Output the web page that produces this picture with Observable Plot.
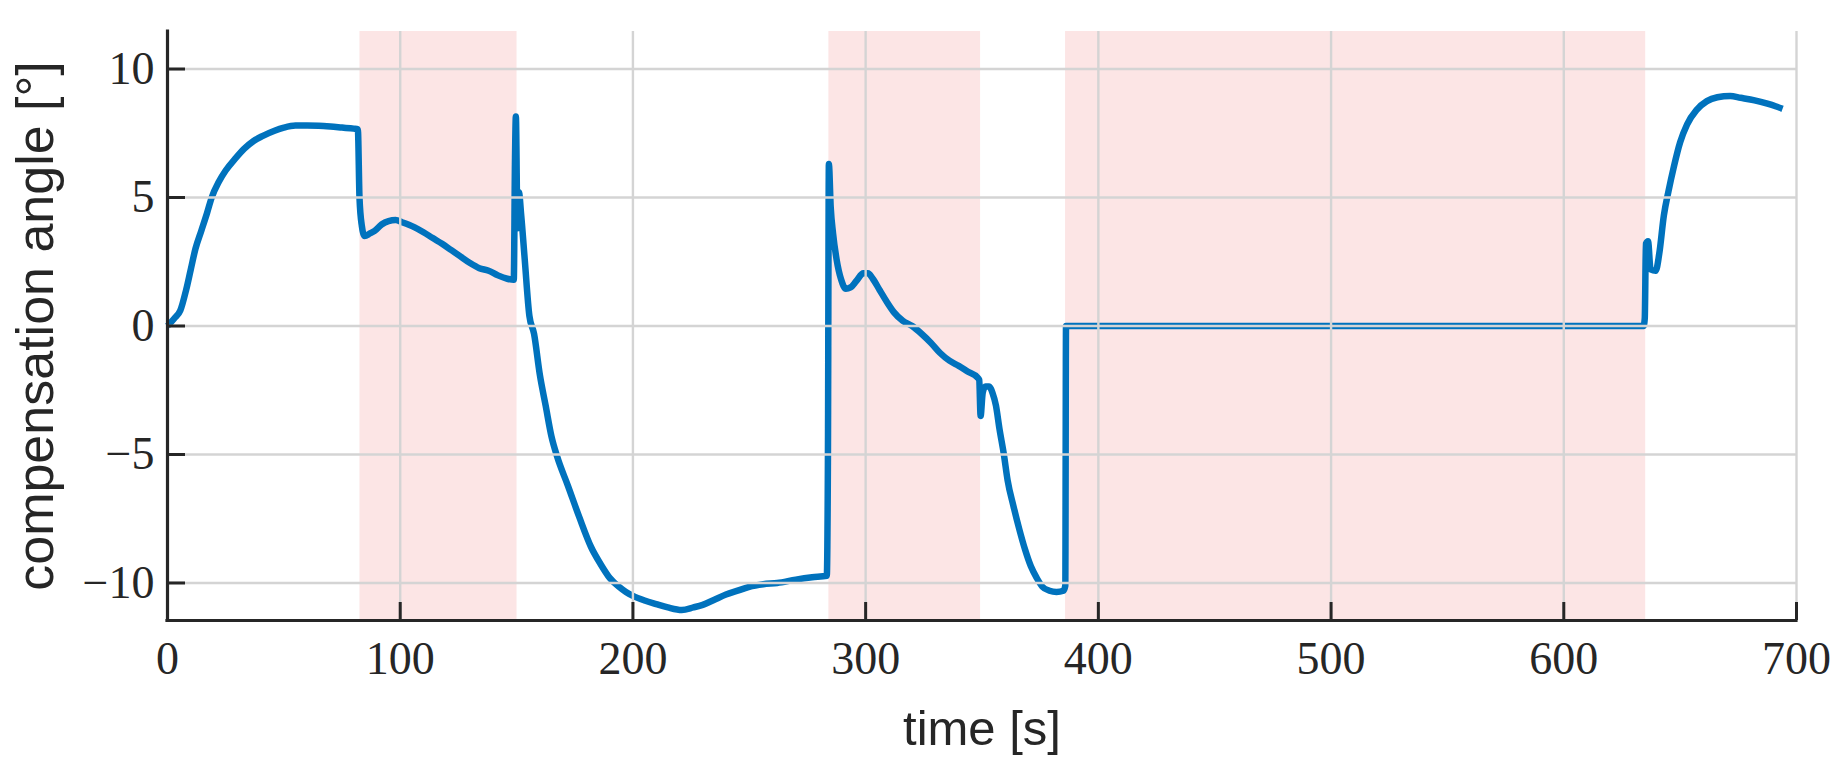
<!DOCTYPE html>
<html>
<head>
<meta charset="utf-8">
<script src="https://cdn.jsdelivr.net/npm/d3@7"></script>
<script src="https://cdn.jsdelivr.net/npm/@observablehq/plot@0.6"></script>
<style>
  html, body { margin: 0; padding: 0; background: #ffffff; }
  #chart { width: 1839px; height: 772px; }
</style>
</head>
<body>
<div id="chart"></div>
<script>
// ---- data ----
const time = [
  0, 3, 5.5, 8, 10, 12, 14.5, 17, 19, 22,
  25, 29, 33, 37, 41, 46, 50, 55, 60, 65,
  70, 75, 80, 81.8, 82.5, 83.5, 84.7, 87, 89, 92,
  95, 98, 101, 106, 110, 114, 118, 122, 126, 130,
  134, 138, 142, 146, 148.8, 149.3, 149.7, 150.4, 151.0, 152.0,
  153.5, 155.5, 157.5, 160, 162.5, 165, 167.5, 172, 177, 182,
  186, 190, 194, 197, 200, 205, 210, 215, 221, 226,
  230, 235, 240, 245, 250, 256, 262, 270, 277, 283.3,
  283.8, 284.2, 285, 286, 287.5, 289.5, 291.5, 293.5, 296, 299,
  301, 303, 306, 309, 312, 316, 320, 324, 328, 332,
  336, 340, 344, 348, 348.8, 349.4, 350.3, 351.5, 353, 354.5,
  356, 357.5, 359.4, 361, 363.5, 366, 368.5, 371, 373.5, 376,
  379, 382, 385, 385.8, 386.1, 634.3, 634.8, 635.3, 636.2, 637.3,
  639.5, 641, 643, 645, 647.3, 650, 653, 657, 661.5, 666,
  671.5, 676, 682, 687.5, 691, 694
];
const angle = [
  0, 0.3, 0.6, 1.4, 2.2, 3.0, 3.7, 4.4, 5.0, 5.6,
  6.05, 6.5, 6.9, 7.2, 7.4, 7.6, 7.72, 7.8, 7.8, 7.79,
  7.76, 7.72, 7.68, 7.65, 5.0, 3.9, 3.5, 3.6, 3.7, 3.95,
  4.08, 4.12, 4.03, 3.85, 3.65, 3.42, 3.2, 2.95, 2.7, 2.45,
  2.25, 2.15, 1.97, 1.84, 1.8, 6.3, 8.15, 3.8, 5.2, 4.3,
  2.6, 0.4, -0.3, -1.9, -3.1, -4.3, -5.1, -6.2, -7.45, -8.6,
  -9.25, -9.8, -10.15, -10.35, -10.5, -10.68, -10.82, -10.95, -11.05, -10.95,
  -10.85, -10.65, -10.45, -10.3, -10.15, -10.05, -10.0, -9.87, -9.78, -9.72,
  -5.0, 6.3, 4.6, 3.6, 2.6, 1.8, 1.45, 1.5, 1.75, 2.05,
  2.05, 1.85, 1.4, 0.95, 0.55, 0.2, 0.0, -0.3, -0.65, -1.05,
  -1.35, -1.55, -1.78, -2.0, -2.1, -3.5, -2.6, -2.35, -2.35, -2.6,
  -3.1, -4.0, -5.0, -6.0, -7.0, -7.9, -8.7, -9.35, -9.8, -10.15,
  -10.3, -10.35, -10.3, -10.1, 0, 0, 0.3, 3.2, 3.3, 2.2,
  2.15, 2.8, 4.3, 5.25, 6.2, 7.15, 7.85, 8.4, 8.75, 8.9,
  8.95, 8.88, 8.78, 8.65, 8.55, 8.45
];
const shadeStart = [82.7, 284.2, 385.9];
const shadeEnd   = [150.2, 349.4, 635.2];
const xTicks = [0, 100, 200, 300, 400, 500, 600, 700];
const yTicks = [-10, -5, 0, 5, 10];
const xDomain = [0, 700];
const yDomain = [-11.46, 11.46];
const xLabel = "time [s]";
const yLabel = "compensation angle [°]";

// ---- layout / style ----
const W = 1839, H = 772;
const mL = 167, mR = 43, mT = 31, mB = 152;
const frameW = W - mL - mR, frameH = H - mT - mB;
const tickLen = 18;
const axisColor = "#262626";
const gridColor = "#d4d4d4";
const serif = "'Liberation Serif', 'DejaVu Serif', serif";
const sans = "'Liberation Sans', Arial, Helvetica, sans-serif";

const series = time.map((t, i) => ({t, a: angle[i]}));
const shades = shadeStart.map((s, i) => ({s, e: shadeEnd[i]}));
const fmt = d => d < 0 ? "\u2212" + Math.abs(d) : String(d);

const chart = Plot.plot({
  width: W, height: H,
  marginLeft: mL, marginRight: mR, marginTop: mT, marginBottom: mB,
  style: {fontFamily: serif, fontSize: "46px", color: axisColor, background: "#ffffff"},
  x: {domain: xDomain},
  y: {domain: yDomain},
  marks: [
    Plot.rect(shades, {x1: "s", x2: "e", fill: "#fce5e5"}),
    Plot.line(series, {x: "t", y: "a", curve: "monotone-x", stroke: "#0072bd", strokeWidth: 6.5,
      strokeLinejoin: "round", strokeLinecap: "butt"}),
    Plot.gridX(xTicks, {stroke: gridColor, strokeOpacity: 1, strokeWidth: 2.4}),
    Plot.gridY(yTicks, {stroke: gridColor, strokeOpacity: 1, strokeWidth: 2.4}),
    Plot.ruleY(yTicks, {y: d => d, stroke: axisColor, strokeWidth: 3, insetRight: frameW - tickLen}),
    Plot.ruleX(xTicks, {x: d => d, stroke: axisColor, strokeWidth: 3, insetTop: frameH - tickLen}),
    Plot.ruleX([xDomain[0]], {stroke: axisColor, strokeWidth: 3.2, strokeLinecap: "square"}),
    Plot.ruleY([yDomain[0]], {stroke: axisColor, strokeWidth: 3.2, strokeLinecap: "square"}),
    Plot.axisX(xTicks, {tickSize: 0, tickPadding: 21, tickFormat: fmt, label: null,
      fontSize: 46, fontFamily: serif, fill: axisColor}),
    Plot.axisY(yTicks, {tickSize: 0, tickPadding: 13, tickFormat: fmt, label: null,
      fontSize: 46, fontFamily: serif, fill: axisColor}),
    Plot.text([xLabel], {text: d => d, frameAnchor: "bottom", dy: 124.5, lineAnchor: "bottom",
      textAnchor: "middle", fontFamily: sans, fontSize: 49, fill: axisColor}),
    Plot.text([yLabel], {text: d => d, frameAnchor: "left", dx: -114.5, rotate: -90, lineAnchor: "bottom",
      textAnchor: "middle", fontFamily: sans, fontSize: 52, fill: axisColor})
  ]
});
document.getElementById("chart").appendChild(chart);
</script>
</body>
</html>
